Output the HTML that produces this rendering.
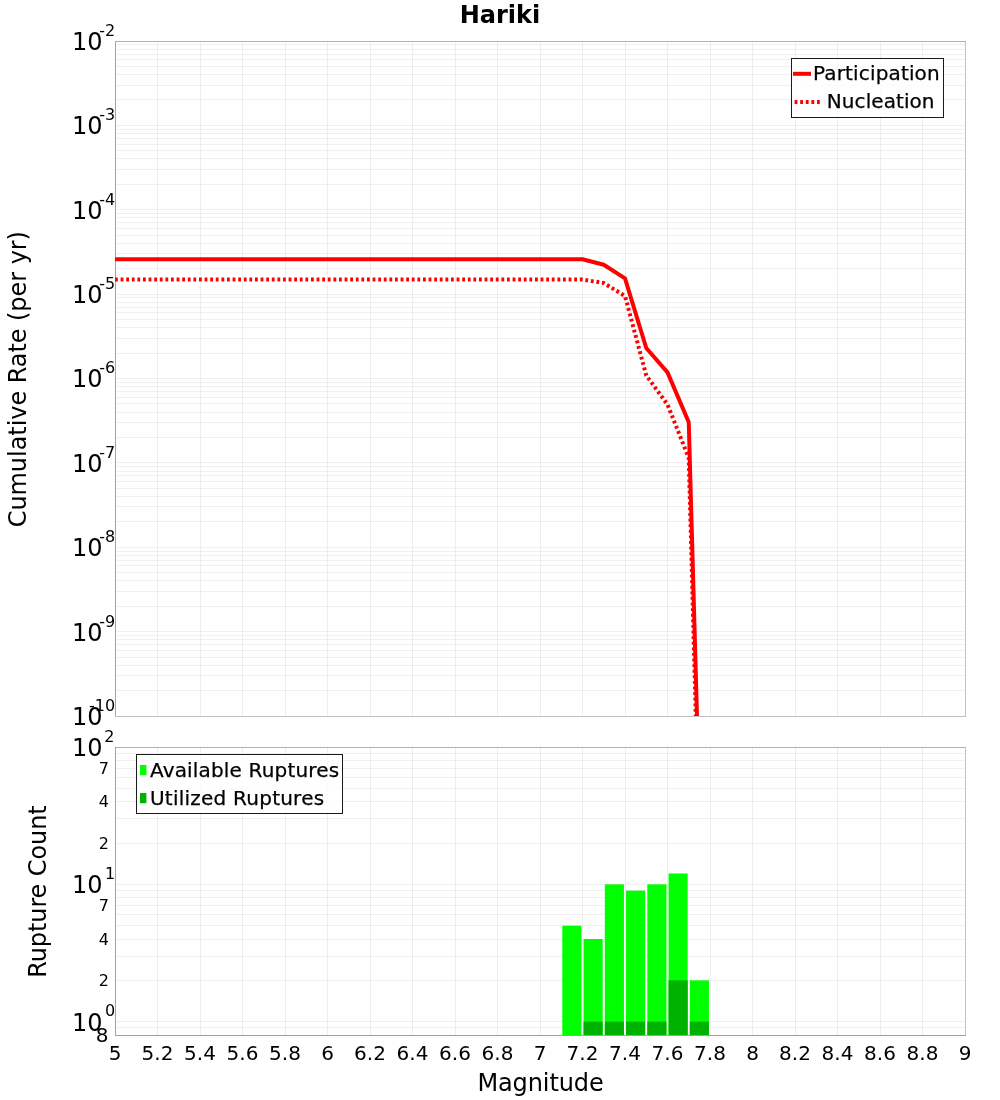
<!DOCTYPE html>
<html><head><meta charset="utf-8"><title>Hariki</title>
<style>html,body{margin:0;padding:0;background:#fff}svg{display:block}text{font-family:"DejaVu Sans", "Liberation Sans", sans-serif;fill:#000}</style></head><body>
<svg width="1000" height="1100" viewBox="0 0 1000 1100">
<rect width="1000" height="1100" fill="#fff"/>
<path d="M157.5 42.0V716.0M200.5 42.0V716.0M242.5 42.0V716.0M285.5 42.0V716.0M327.5 42.0V716.0M370.5 42.0V716.0M412.5 42.0V716.0M455.5 42.0V716.0M497.5 42.0V716.0M540.5 42.0V716.0M582.5 42.0V716.0M625.5 42.0V716.0M667.5 42.0V716.0M710.5 42.0V716.0M752.5 42.0V716.0M795.5 42.0V716.0M837.5 42.0V716.0M880.5 42.0V716.0M922.5 42.0V716.0" stroke="#000" stroke-opacity="0.065" stroke-width="1" fill="none"/>
<path d="M157.5 748.0V1035.0M200.5 748.0V1035.0M242.5 748.0V1035.0M285.5 748.0V1035.0M327.5 748.0V1035.0M370.5 748.0V1035.0M412.5 748.0V1035.0M455.5 748.0V1035.0M497.5 748.0V1035.0M540.5 748.0V1035.0M582.5 748.0V1035.0M625.5 748.0V1035.0M667.5 748.0V1035.0M710.5 748.0V1035.0M752.5 748.0V1035.0M795.5 748.0V1035.0M837.5 748.0V1035.0M880.5 748.0V1035.0M922.5 748.0V1035.0" stroke="#000" stroke-opacity="0.065" stroke-width="1" fill="none"/>
<path d="M116.5 690.5H965.0M116.5 675.5H965.0M116.5 665.5H965.0M116.5 657.5H965.0M116.5 650.5H965.0M116.5 644.5H965.0M116.5 639.5H965.0M116.5 635.5H965.0M116.5 631.5H965.0M116.5 606.5H965.0M116.5 591.5H965.0M116.5 580.5H965.0M116.5 572.5H965.0M116.5 565.5H965.0M116.5 560.5H965.0M116.5 555.5H965.0M116.5 551.5H965.0M116.5 547.5H965.0M116.5 521.5H965.0M116.5 506.5H965.0M116.5 496.5H965.0M116.5 488.5H965.0M116.5 481.5H965.0M116.5 475.5H965.0M116.5 471.5H965.0M116.5 466.5H965.0M116.5 462.5H965.0M116.5 437.5H965.0M116.5 422.5H965.0M116.5 412.5H965.0M116.5 403.5H965.0M116.5 397.5H965.0M116.5 391.5H965.0M116.5 386.5H965.0M116.5 382.5H965.0M116.5 378.5H965.0M116.5 353.5H965.0M116.5 338.5H965.0M116.5 327.5H965.0M116.5 319.5H965.0M116.5 312.5H965.0M116.5 307.5H965.0M116.5 302.5H965.0M116.5 297.5H965.0M116.5 294.5H965.0M116.5 268.5H965.0M116.5 253.5H965.0M116.5 243.5H965.0M116.5 235.5H965.0M116.5 228.5H965.0M116.5 222.5H965.0M116.5 217.5H965.0M116.5 213.5H965.0M116.5 209.5H965.0M116.5 184.5H965.0M116.5 169.5H965.0M116.5 158.5H965.0M116.5 150.5H965.0M116.5 144.5H965.0M116.5 138.5H965.0M116.5 133.5H965.0M116.5 129.5H965.0M116.5 125.5H965.0M116.5 99.5H965.0M116.5 85.5H965.0M116.5 74.5H965.0M116.5 66.5H965.0M116.5 59.5H965.0M116.5 54.5H965.0M116.5 49.5H965.0M116.5 44.5H965.0" stroke="#e1e1e1" stroke-opacity="0.49" stroke-width="1" fill="none"/>
<path d="M116.5 1027.5H965.0M116.5 1021.5H965.0M116.5 980.5H965.0M116.5 956.5H965.0M116.5 939.5H965.0M116.5 925.5H965.0M116.5 914.5H965.0M116.5 905.5H965.0M116.5 897.5H965.0M116.5 890.5H965.0M116.5 884.5H965.0M116.5 843.5H965.0M116.5 818.5H965.0M116.5 801.5H965.0M116.5 788.5H965.0M116.5 777.5H965.0M116.5 768.5H965.0M116.5 760.5H965.0M116.5 753.5H965.0" stroke="#e1e1e1" stroke-opacity="0.49" stroke-width="1" fill="none"/>
<rect x="562.31" y="925.69" width="19.12" height="109.31" fill="#00ff00"/>
<rect x="583.56" y="939.00" width="19.12" height="96.00" fill="#00ff00"/>
<rect x="604.81" y="884.34" width="19.12" height="150.66" fill="#00ff00"/>
<rect x="626.06" y="890.63" width="19.12" height="144.37" fill="#00ff00"/>
<rect x="647.31" y="884.34" width="19.12" height="150.66" fill="#00ff00"/>
<rect x="668.56" y="873.47" width="19.12" height="161.53" fill="#00ff00"/>
<rect x="689.81" y="980.34" width="19.12" height="54.66" fill="#00ff00"/>
<rect x="583.56" y="1021.69" width="19.12" height="13.31" fill="#00b200"/>
<rect x="604.81" y="1021.69" width="19.12" height="13.31" fill="#00b200"/>
<rect x="626.06" y="1021.69" width="19.12" height="13.31" fill="#00b200"/>
<rect x="647.31" y="1021.69" width="19.12" height="13.31" fill="#00b200"/>
<rect x="668.56" y="980.34" width="19.12" height="54.66" fill="#00b200"/>
<rect x="689.81" y="1021.69" width="19.12" height="13.31" fill="#00b200"/>
<path d="M115.5 41.0V717.0" stroke="#a4a4a4" stroke-width="1" fill="none"/>
<clipPath id="c1"><rect x="115.0" y="41.0" width="850.0" height="675.0"/></clipPath>
<g clip-path="url(#c1)" fill="none" stroke="#ff0000" stroke-width="4" stroke-linejoin="bevel">
<polyline points="115.00,259.20 582.50,259.20 603.75,264.80 625.00,278.40 646.25,348.00 667.50,372.40 688.75,422.30 710.00,1179.00"/>
<polyline points="115.00,279.60 582.50,279.60 603.75,283.00 625.00,296.00 646.25,375.50 667.50,404.50 688.75,458.00 710.00,1236.00" stroke-dasharray="2.8 2.8"/>
</g>
<path d="M115.0 41.5H966.0" stroke="#b0b0b0" stroke-width="1" fill="none"/>
<path d="M965.5 41.0V717.0" stroke="#c2c2c2" stroke-width="1" fill="none"/>
<path d="M115.0 716.5H966.0" stroke="#c0c0c0" stroke-width="1" fill="none"/>
<path d="M115.0 747.5H966.0" stroke="#b0b0b0" stroke-width="1" fill="none"/>
<path d="M965.5 747.0V1036.0" stroke="#c2c2c2" stroke-width="1" fill="none"/>
<path d="M115.0 1035.5H966.0" stroke="#a0a0a0" stroke-width="1" fill="none"/>
<path d="M115.5 747.0V1036.0" stroke="#a4a4a4" stroke-width="1" fill="none"/>
<text x="500" y="22.8" font-size="24" font-weight="bold" text-anchor="middle">Hariki</text>
<text x="71.9" y="49.80" font-size="24">10</text>
<text x="115.2" y="35.70" font-size="16" text-anchor="end">-2</text>
<text x="71.9" y="133.80" font-size="24">10</text>
<text x="115.2" y="119.70" font-size="16" text-anchor="end">-3</text>
<text x="71.9" y="218.80" font-size="24">10</text>
<text x="115.2" y="204.70" font-size="16" text-anchor="end">-4</text>
<text x="71.9" y="302.80" font-size="24">10</text>
<text x="115.2" y="288.70" font-size="16" text-anchor="end">-5</text>
<text x="71.9" y="386.80" font-size="24">10</text>
<text x="115.2" y="372.70" font-size="16" text-anchor="end">-6</text>
<text x="71.9" y="471.80" font-size="24">10</text>
<text x="115.2" y="457.70" font-size="16" text-anchor="end">-7</text>
<text x="71.9" y="555.80" font-size="24">10</text>
<text x="115.2" y="541.70" font-size="16" text-anchor="end">-8</text>
<text x="71.9" y="640.80" font-size="24">10</text>
<text x="115.2" y="626.70" font-size="16" text-anchor="end">-9</text>
<text x="71.9" y="724.80" font-size="24">10</text>
<text x="115.2" y="710.70" font-size="16" text-anchor="end">-10</text>
<text x="71.9" y="755.80" font-size="24">10</text>
<text x="114.5" y="741.70" font-size="16" text-anchor="end">2</text>
<text x="71.9" y="892.80" font-size="24">10</text>
<text x="115.2" y="878.70" font-size="16" text-anchor="end">1</text>
<text x="71.9" y="1030.80" font-size="24">10</text>
<text x="115.2" y="1015.80" font-size="16" text-anchor="end">0</text>
<text x="109" y="774.08" font-size="16" text-anchor="end">7</text>
<text x="109" y="807.46" font-size="16" text-anchor="end">4</text>
<text x="109" y="848.80" font-size="16" text-anchor="end">2</text>
<text x="109" y="911.42" font-size="16" text-anchor="end">7</text>
<text x="109" y="944.80" font-size="16" text-anchor="end">4</text>
<text x="109" y="986.14" font-size="16" text-anchor="end">2</text>
<text x="108.6" y="1042.3" font-size="20" text-anchor="end">8</text>
<text x="115.00" y="1059.6" font-size="20" text-anchor="middle">5</text>
<text x="157.50" y="1059.6" font-size="20" text-anchor="middle">5.2</text>
<text x="200.00" y="1059.6" font-size="20" text-anchor="middle">5.4</text>
<text x="242.50" y="1059.6" font-size="20" text-anchor="middle">5.6</text>
<text x="285.00" y="1059.6" font-size="20" text-anchor="middle">5.8</text>
<text x="327.50" y="1059.6" font-size="20" text-anchor="middle">6</text>
<text x="370.00" y="1059.6" font-size="20" text-anchor="middle">6.2</text>
<text x="412.50" y="1059.6" font-size="20" text-anchor="middle">6.4</text>
<text x="455.00" y="1059.6" font-size="20" text-anchor="middle">6.6</text>
<text x="497.50" y="1059.6" font-size="20" text-anchor="middle">6.8</text>
<text x="540.00" y="1059.6" font-size="20" text-anchor="middle">7</text>
<text x="582.50" y="1059.6" font-size="20" text-anchor="middle">7.2</text>
<text x="625.00" y="1059.6" font-size="20" text-anchor="middle">7.4</text>
<text x="667.50" y="1059.6" font-size="20" text-anchor="middle">7.6</text>
<text x="710.00" y="1059.6" font-size="20" text-anchor="middle">7.8</text>
<text x="752.50" y="1059.6" font-size="20" text-anchor="middle">8</text>
<text x="795.00" y="1059.6" font-size="20" text-anchor="middle">8.2</text>
<text x="837.50" y="1059.6" font-size="20" text-anchor="middle">8.4</text>
<text x="880.00" y="1059.6" font-size="20" text-anchor="middle">8.6</text>
<text x="922.50" y="1059.6" font-size="20" text-anchor="middle">8.8</text>
<text x="965.00" y="1059.6" font-size="20" text-anchor="middle">9</text>
<text x="540.5" y="1091" font-size="24" letter-spacing="-0.1" text-anchor="middle">Magnitude</text>
<text transform="translate(25.8 379.2) rotate(-90)" font-size="24" letter-spacing="-0.055" text-anchor="middle">Cumulative Rate (per yr)</text>
<text transform="translate(46.3 891.6) rotate(-90)" font-size="24" letter-spacing="-0.1" text-anchor="middle">Rupture Count</text>
<rect x="791.5" y="58.5" width="152" height="59" fill="#fff" fill-opacity="0.8" stroke="#1a1a1a" stroke-width="1"/>
<path d="M793 73.8H811" stroke="#ff0000" stroke-width="4" fill="none"/>
<text x="813.0" y="79.7" font-size="20" stroke="#000" stroke-width="0.25" letter-spacing="0.15">Participation</text>
<path d="M794.6 101.9H820.2" stroke="#ff0000" stroke-width="4" stroke-dasharray="2.8 2.8" fill="none"/>
<text x="826.8" y="107.7" font-size="20" stroke="#000" stroke-width="0.25" letter-spacing="0.07">Nucleation</text>
<rect x="136.5" y="754.5" width="206" height="59" fill="#fff" fill-opacity="0.8" stroke="#1a1a1a" stroke-width="1"/>
<rect x="140" y="765" width="6.4" height="10.2" fill="#00ff00"/>
<text x="150.0" y="776.6" font-size="20" stroke="#000" stroke-width="0.25" letter-spacing="0.165">Available Ruptures</text>
<rect x="140" y="793" width="6.4" height="10.2" fill="#00b200"/>
<text x="150.0" y="804.5" font-size="20" stroke="#000" stroke-width="0.25" letter-spacing="0.23">Utilized Ruptures</text>
</svg></body></html>
